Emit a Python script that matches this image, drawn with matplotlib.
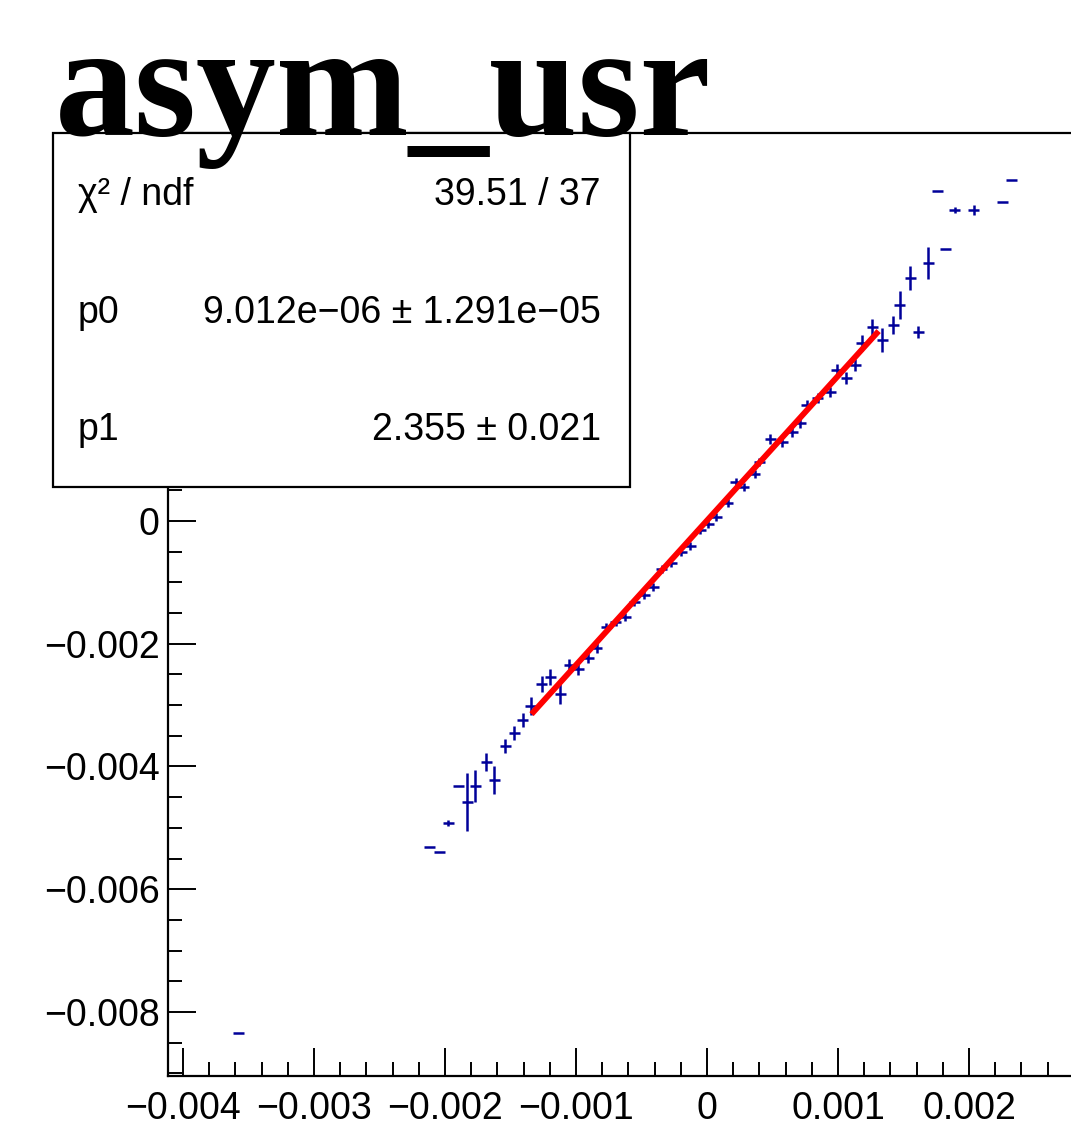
import matplotlib
matplotlib.use("Agg")
import matplotlib.pyplot as plt
from matplotlib.patches import Rectangle
from matplotlib.ticker import MultipleLocator, FuncFormatter
import numpy as np

# graph points (x, y) with errors
x_vals = [-0.003580, -0.002115, -0.002046, -0.001977, -0.001901, -0.001832,
          -0.001771, -0.001687, -0.001626, -0.001542, -0.001473, -0.001405,
          -0.001344, -0.001260, -0.001198, -0.001122, -0.001053, -0.000985,
          -0.000908, -0.000840, -0.000771, -0.000695, -0.000626, -0.000557,
          -0.000481, -0.000412, -0.000344, -0.000275, -0.000198, -0.000130,
          -0.000053, 0.000008, 0.000069, 0.000160, 0.000221, 0.000282,
          0.000366, 0.000397, 0.000481, 0.000573, 0.000649, 0.000710,
          0.000763, 0.000847, 0.000939, 0.000992, 0.001061, 0.001130,
          0.001183, 0.001260, 0.001336, 0.001420, 0.001473, 0.001550,
          0.001611, 0.001687, 0.001824, 0.001763, 0.001893, 0.002038,
          0.002252, 0.002328]
y_vals = [-0.008342, -0.005312, -0.005393, -0.004921, -0.004318, -0.004578,
          -0.004318, -0.003927, -0.004220, -0.003666, -0.003454, -0.003242,
          -0.003014, -0.002656, -0.002542, -0.002819, -0.002346, -0.002411,
          -0.002232, -0.002069, -0.001727, -0.001646, -0.001564, -0.001320,
          -0.001206, -0.001075, -0.000782, -0.000684, -0.000505, -0.000407,
          -0.000147, -0.000049, 0.000065, 0.000293, 0.000635, 0.000554,
          0.000766, 0.000961, 0.001336, 0.001287, 0.001450, 0.001597,
          0.001890, 0.002004, 0.002102, 0.002460, 0.002330, 0.002542,
          0.002900, 0.003161, 0.002949, 0.003193, 0.003519, 0.003959,
          0.003079, 0.004204, 0.004432, 0.005377, 0.005067, 0.005067,
          0.005198, 0.005556]
y_errs = [0.0, 0.0, 0.0, 4.9e-5, 0.0, 4.72e-4,
          2.61e-4, 1.47e-4, 2.28e-4, 1.14e-4, 1.14e-4, 1.14e-4,
          1.47e-4, 1.30e-4, 1.30e-4, 1.63e-4, 9.8e-5, 9.8e-5,
          8.1e-5, 8.1e-5, 6.5e-5, 6.5e-5, 6.5e-5, 6.5e-5,
          6.5e-5, 6.5e-5, 6.5e-5, 6.5e-5, 6.5e-5, 6.5e-5,
          6.5e-5, 6.5e-5, 6.5e-5, 6.5e-5, 6.5e-5, 6.5e-5,
          6.5e-5, 6.5e-5, 8.1e-5, 8.1e-5, 8.1e-5, 8.1e-5,
          8.1e-5, 8.1e-5, 8.1e-5, 9.8e-5, 9.8e-5, 9.8e-5,
          1.30e-4, 1.30e-4, 1.95e-4, 1.47e-4, 2.28e-4, 1.95e-4,
          9.8e-5, 2.61e-4, 0.0, 0.0, 4.9e-5, 8.1e-5,
          0.0, 0.0]
x_err = 4.2e-5

# fit result
p0 = 9.012e-06
p1 = 2.355
fit_range = [-0.00134, 0.00131]
stats_rows = [("χ² / ndf", "39.51 / 37"),
              ("p0", "9.012e−06 ± 1.291e−05"),
              ("p1", "2.355 ± 0.021")]
title = "asym_usr"

W, H = 1071, 1137
fig = plt.figure(figsize=(W / 100, H / 100), dpi=100)
plt.rcParams["font.family"] = ["Liberation Sans", "DejaVu Sans"]

ax = fig.add_axes([168 / W, 61 / H, 932 / W, 943 / H])
ax.set_xlim(-0.004115, 0.0030)
ax.set_ylim(-0.009043, 0.006322)

ax.errorbar(x_vals, y_vals, xerr=x_err, yerr=y_errs, fmt="none",
            ecolor="#000099", elinewidth=1.8, capsize=0, zorder=2)

fx = np.linspace(fit_range[0], fit_range[1], 50)
ax.plot(fx, p0 + p1 * fx, color="red", lw=4.2, zorder=3,
        solid_capstyle="butt")

ax.xaxis.set_major_locator(MultipleLocator(0.001))
ax.xaxis.set_minor_locator(MultipleLocator(0.0002))
ax.yaxis.set_major_locator(MultipleLocator(0.002))
ax.yaxis.set_minor_locator(MultipleLocator(0.0005))


def fmt(v, pos):
    if abs(v) < 1e-12:
        return "0"
    return f"{v:g}".replace("-", "\u2212")


def fmt_x(v, pos):
    # the 0.003 label falls off the right edge of the canvas
    return fmt(v, pos) if v < 0.0025 else ""


def fmt_y(v, pos):
    # positive labels sit under the stats box
    return fmt(v, pos) if v < 0.001 else ""


ax.xaxis.set_major_formatter(FuncFormatter(fmt_x))
ax.yaxis.set_major_formatter(FuncFormatter(fmt_y))
ax.tick_params(which="both", direction="in", width=1.4, labelsize=27,
               top=False, right=False)
ax.tick_params(which="major", length=20)
ax.tick_params(which="minor", length=10)
ax.tick_params(axis="x", pad=11)
ax.tick_params(axis="y", pad=6)
for s in ax.spines.values():
    s.set_linewidth(1.6)

# stats box
bx0, by0, bx1, by1 = 53, 133, 630, 487
box = Rectangle((bx0 / W, 1 - by1 / H), (bx1 - bx0) / W, (by1 - by0) / H,
                transform=fig.transFigure, facecolor="white",
                edgecolor="black", lw=1.6, zorder=5)
fig.add_artist(box)
for i, (name, val) in enumerate(stats_rows):
    yb = 1 - (205 + i * 117.5) / H
    fig.text(78 / W, yb, name, fontsize=27, va="baseline", ha="left",
             zorder=6)
    fig.text(601 / W, yb, val, fontsize=27, va="baseline", ha="right",
             zorder=6)

fig.text(55 / W, 1 - 135 / H, title, fontsize=115, fontweight="bold",
         family=["Liberation Serif", "DejaVu Serif"], va="baseline",
         ha="left", zorder=7)

fig.savefig("out.png", dpi=100)
